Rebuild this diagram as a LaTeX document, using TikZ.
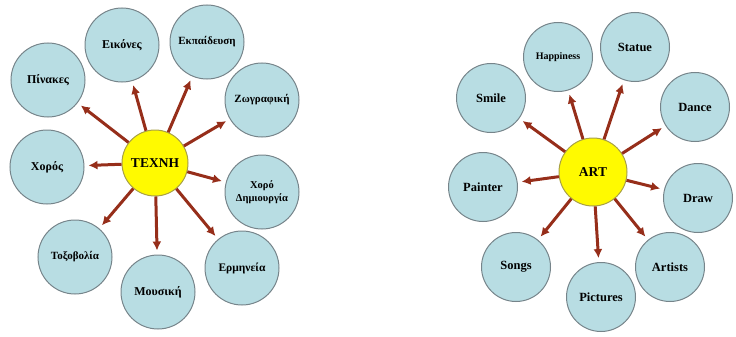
\documentclass[tikz,border=0pt]{standalone}
\usepackage{fontspec}
\setmainfont{Liberation Serif}
\usetikzlibrary{%
    arrows.meta,
    positioning
}
\definecolor{bubblefill}{RGB}{184,221,227}
\definecolor{bubbleline}{RGB}{118,132,138}
\definecolor{sunfill}{RGB}{255,250,0}
\definecolor{sunline}{RGB}{168,160,70}
\definecolor{rayred}{RGB}{150,46,26}
\tikzset{headarrow/.style = {-{Latex[length=9pt,width=9pt]}, line width=3pt,
    draw=rayred, shorten >=4pt}}

\begin{document}
\begin{tikzpicture}[x=1pt, y=-1pt,
    bubble/.style = {circle, draw=bubbleline, line width=1pt, fill=bubblefill,
        minimum size=74pt, inner sep=0pt, align=center,
        font=\bfseries\fontsize{12}{13}\selectfont},
    smallbubble/.style = {bubble, minimum size=69pt,
        font=\bfseries\fontsize{12.5}{13}\selectfont},
    sun/.style = {circle, draw=sunline, line width=1pt, fill=sunfill,
        minimum size=66pt, inner sep=0pt,
        font=\bfseries\fontsize{13.5}{14}\selectfont}]
    \useasboundingbox (0,0) rectangle (736,337);

    % left: greek
    \node[sun] (techni) at (155,163) {ΤΕΧΝΗ};
    \node[bubble] (pinakes) at (48,80) {Πίνακες};
    \node[bubble] (eikones) at (122,45) {Εικόνες};
    \node[bubble, font=\bfseries\fontsize{11}{12}\selectfont] (ekpaideusi) at (207,42) {Εκπαίδευση};
    \node[bubble, font=\bfseries\fontsize{11}{12}\selectfont] (zografiki) at (262,100) {Ζωγραφική};
    \node[bubble, font=\bfseries\fontsize{10.5}{13}\selectfont] (xorodim) at (262,192) {Χορό\\Δημιουργία};
    \node[bubble, font=\bfseries\fontsize{11.5}{12}\selectfont] (ermineia) at (242,268) {Ερμηνεία};
    \node[bubble] (mousiki) at (158,292) {Μουσική};
    \node[bubble, font=\bfseries\fontsize{11}{12}\selectfont] (toxovolia) at (75,257) {Τοξοβολία};
    \node[bubble] (xoros) at (47,167) {Χορός};

    \draw[headarrow] (techni) to (pinakes);
    \draw[headarrow] (techni) to (eikones);
    \draw[headarrow] (techni) to (ekpaideusi);
    \draw[headarrow] (techni) to (zografiki);
    \draw[headarrow] (techni) to (xorodim);
    \draw[headarrow] (techni) to (ermineia);
    \draw[headarrow] (techni) to (mousiki);
    \draw[headarrow] (techni) to (toxovolia);
    \draw[headarrow] (techni) to (xoros);

    % right: english
    \node[sun, minimum size=68pt] (art) at (593,172) {ART};
    \node[smallbubble] (smile) at (491,98) {Smile};
    \node[smallbubble, font=\bfseries\fontsize{10}{11}\selectfont] (happiness) at (558,57) {Happiness};
    \node[smallbubble] (statue) at (635,47) {Statue};
    \node[smallbubble] (dance) at (695,107) {Dance};
    \node[smallbubble] (drawing) at (698,198) {Draw};
    \node[smallbubble] (artists) at (670,267) {Artists};
    \node[smallbubble] (pictures) at (601,297) {Pictures};
    \node[smallbubble] (songs) at (516,267) {Songs};
    \node[smallbubble] (painter) at (483,187) {Painter};

    \draw[headarrow] (art) to (smile);
    \draw[headarrow] (art) to (happiness);
    \draw[headarrow] (art) to (statue);
    \draw[headarrow] (art) to (dance);
    \draw[headarrow] (art) to (drawing);
    \draw[headarrow] (art) to (artists);
    \draw[headarrow] (art) to (pictures);
    \draw[headarrow] (art) to (songs);
    \draw[headarrow] (art) to (painter);
\end{tikzpicture}
\end{document}
